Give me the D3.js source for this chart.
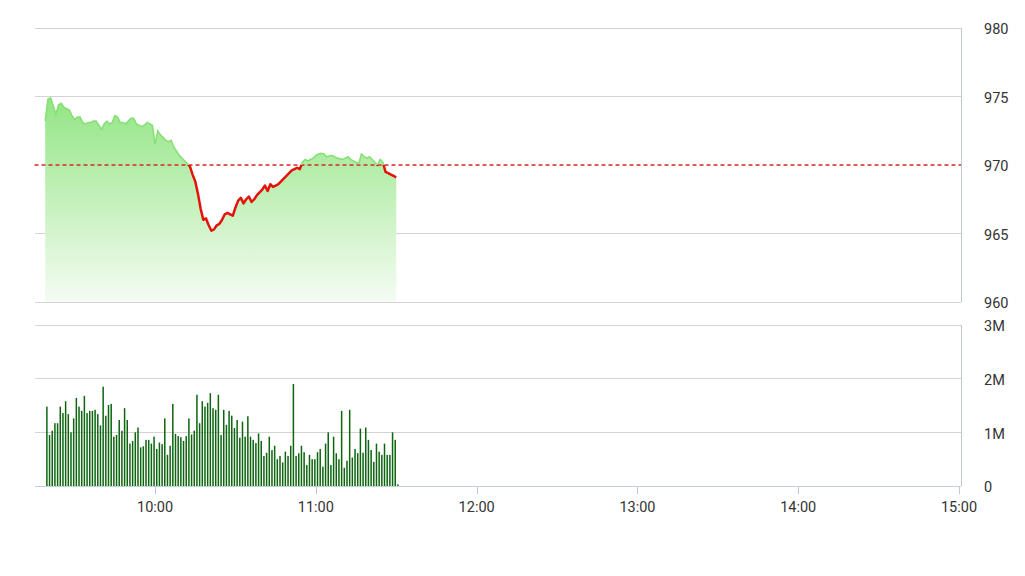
<!DOCTYPE html>
<html><head><meta charset="utf-8">
<script src="https://cdn.jsdelivr.net/npm/d3@7/dist/d3.min.js"></script>
<style>
html,body{margin:0;padding:0;background:#fff;}
svg{display:block;font-family:Roboto,"Liberation Sans",Arial,sans-serif;}
</style></head>
<body><svg id="c" width="1025" height="576"></svg>
<script>
// ---- data ----
const firstMinute = "09:19";
const refPrice = 970;
const prices = [
973.2,974.8,974.9,974.3,973.7,974.4,974.5,974.2,974.1,974.0,
973.6,973.3,973.5,973.5,973.1,973.0,973.1,973.1,973.2,973.2,
972.9,972.6,973.0,973.2,973.0,973.1,973.6,973.5,973.1,973.1,
973.0,973.2,973.4,973.4,973.0,972.9,972.8,972.9,973.1,973.0,
972.9,971.5,972.5,972.2,972.0,971.8,971.7,971.8,971.3,971.0,
970.7,970.5,970.3,970.1,969.9,969.3,968.8,967.9,966.8,966.0,
966.1,965.6,965.2,965.3,965.6,965.7,966.0,966.4,966.5,966.4,
966.3,966.9,967.4,967.6,967.2,967.5,967.7,967.3,967.5,967.8,
968.0,968.2,968.5,968.1,968.6,968.4,968.5,968.6,968.8,969.0,
969.2,969.4,969.6,969.7,969.8,969.7,970.2,970.4,970.3,970.4,
970.5,970.7,970.8,970.85,970.8,970.6,970.65,970.7,970.6,970.5,
970.45,970.4,970.5,970.6,970.4,970.3,970.2,970.1,970.8,970.6,
970.5,970.6,970.4,970.2,970.0,970.4,970.2,969.5,969.4,969.3,
969.2,969.1];
const volumesM = [
1.48,0.95,1.03,1.17,1.17,1.48,1.36,1.58,1.34,1.0,1.26,1.64,1.48,1.40,1.68,1.36,1.40,1.40,1.42,1.34,
1.13,1.85,1.31,1.51,1.53,0.92,0.95,1.23,1.03,1.45,1.23,0.79,0.84,1.0,1.09,0.72,0.74,0.86,0.86,0.79,
0.92,0.69,0.81,0.78,1.26,
0.58,0.75,1.53,0.97,0.93,0.91,0.84,0.93,1.26,0.96,1.03,1.70,1.17,1.58,1.48,1.55,1.73,1.45,1.42,1.70,
0.95,1.42,1.14,1.40,1.31,1.08,1.23,0.90,1.20,0.92,1.30,0.92,0.86,0.80,0.98,0.84,0.56,0.62,0.92,0.67,
0.75,0.50,0.56,0.44,0.64,
0.56,0.75,1.90,0.56,0.61,0.75,0.63,0.39,0.58,0.50,0.50,0.63,0.69,0.36,0.79,1.00,0.39,0.92,0.61,0.50,
1.40,0.34,0.47,1.42,0.53,0.69,0.61,1.07,0.62,1.09,0.86,0.67,0.45,0.79,0.64,0.58,0.79,0.58,0.58,1.00,
0.86,0.03];
const priceTicks = [960,965,970,975,980];
const volTicks = [0,1e6,2e6,3e6];
const volTickLabels = ["0","1M","2M","3M"];
const timeTicks = ["10:00","11:00","12:00","13:00","14:00","15:00"];
const sessionStart = "09:15", sessionEnd = "15:00";

// ---- helpers ----
const parseT = s => { const [h,m] = s.split(":").map(Number); return new Date(2024,0,2,h,m); };
const t0 = parseT(firstMinute);
const priceData = prices.map((p,i)=>({t:d3.timeMinute.offset(t0,i), v:p}));
const volData = volumesM.map((v,i)=>({t:d3.timeMinute.offset(t0,i), v:v*1e6}));

const svg = d3.select("#c");
const L = 34.5, R = 959, axisX = 961;
const x = d3.scaleTime().domain([parseT(sessionStart), parseT(sessionEnd)]).range([L, R]);
const yP = d3.scaleLinear().domain([960,980]).range([302,28]);
const yV = d3.scaleLinear().domain([0,3e6]).range([486,325]);

const defs = svg.append("defs");
const grad = defs.append("linearGradient").attr("id","fillG")
  .attr("gradientUnits","userSpaceOnUse").attr("x1",0).attr("x2",0)
  .attr("y1",yP(975)).attr("y2",yP(960));
grad.append("stop").attr("offset","0%").attr("stop-color","#92e583");
grad.append("stop").attr("offset","100%").attr("stop-color","#f5fcf3");
defs.append("clipPath").attr("id","above").append("rect")
  .attr("x",0).attr("y",0).attr("width",1025).attr("height",yP(refPrice));
defs.append("clipPath").attr("id","below").append("rect")
  .attr("x",0).attr("y",yP(refPrice)).attr("width",1025).attr("height",400);

// grids
const gridColor = "#d3d3d3";
svg.append("g").selectAll("line").data(priceTicks.filter(d=>d!==refPrice)).join("line")
  .attr("x1",L).attr("x2",axisX).attr("y1",d=>yP(d)).attr("y2",d=>yP(d))
  .attr("stroke",gridColor).attr("stroke-width",1).attr("shape-rendering","crispEdges");
svg.append("g").selectAll("line").data(volTicks).join("line")
  .attr("x1",L).attr("x2",axisX).attr("y1",d=>yV(d)).attr("y2",d=>yV(d))
  .attr("stroke",d=>d===0?"#c5cfdc":gridColor).attr("stroke-width",1).attr("shape-rendering","crispEdges");

// right axis lines
const axisColor = "#bcc8da";
svg.append("line").attr("x1",axisX).attr("x2",axisX).attr("y1",yP(980)).attr("y2",yP(960))
  .attr("stroke",axisColor).attr("shape-rendering","crispEdges");
svg.append("line").attr("x1",axisX).attr("x2",axisX).attr("y1",yV(3e6)).attr("y2",yV(0))
  .attr("stroke",axisColor).attr("shape-rendering","crispEdges");

// area
const area = d3.area().x(d=>x(d.t)).y0(yP(960)).y1(d=>yP(d.v));
svg.append("path").datum(priceData).attr("d",area).attr("fill","url(#fillG)");

// reference dashed
svg.append("line").attr("x1",L).attr("x2",axisX).attr("y1",yP(refPrice)).attr("y2",yP(refPrice))
  .attr("stroke","#d62a22").attr("stroke-width",1.3).attr("stroke-dasharray","4,3");

// price line
const line = d3.line().x(d=>x(d.t)).y(d=>yP(d.v));
svg.append("path").datum(priceData).attr("d",line).attr("fill","none")
  .attr("stroke","#86e075").attr("stroke-width",1.6).attr("clip-path","url(#above)");
svg.append("path").datum(priceData).attr("d",line).attr("fill","none")
  .attr("stroke","#e3120b").attr("stroke-width",2.5).attr("stroke-linejoin","round").attr("clip-path","url(#below)");

// volume bars
svg.append("g").selectAll("rect").data(volData).join("rect")
  .attr("x",d=>x(d.t)+0.9).attr("width",1.5)
  .attr("y",d=>yV(d.v)).attr("height",d=>yV(0)-yV(d.v))
  .attr("fill","#0d650f");

// labels
const txt = "#333";
svg.append("g").selectAll("text").data(priceTicks).join("text")
  .attr("x",984).attr("y",d=>yP(d)+1).attr("dy","0.36em")
  .attr("font-size",14.5).attr("fill",txt).text(d=>d);
svg.append("g").selectAll("text").data(volTicks).join("text")
  .attr("x",984).attr("y",d=>yV(d)+1).attr("dy","0.36em")
  .attr("font-size",14.5).attr("fill",txt).text((d,i)=>volTickLabels[i]);

// time axis
const tg = svg.append("g");
tg.selectAll("line").data(timeTicks).join("line")
  .attr("x1",d=>Math.round(x(parseT(d)))+0.5).attr("x2",d=>Math.round(x(parseT(d)))+0.5)
  .attr("y1",487).attr("y2",494).attr("stroke",axisColor);
tg.selectAll("text").data(timeTicks).join("text")
  .attr("x",d=>x(parseT(d))).attr("y",512).attr("text-anchor","middle")
  .attr("font-size",14.5).attr("fill",txt).text(d=>d);
</script></body></html>
